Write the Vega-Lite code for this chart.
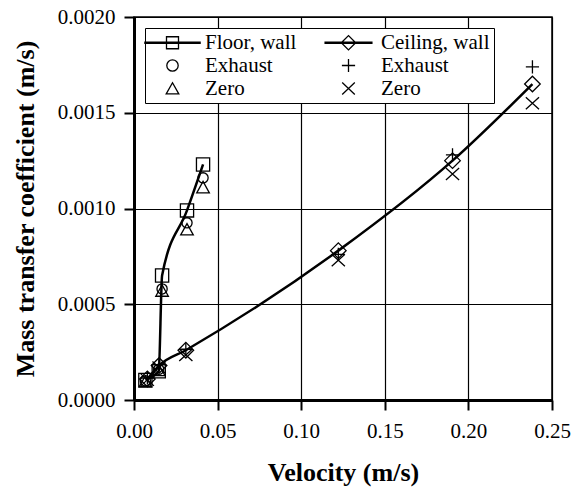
{
  "$schema": "https://vega.github.io/schema/vega-lite/v6.json",
  "width": 418,
  "height": 383,
  "autosize": {"type": "none"},
  "padding": {"left": 134, "top": 17, "right": 27, "bottom": 88},
  "background": "white",
  "config": {
    "view": {"stroke": "black", "strokeWidth": 1.5},
    "font": "Liberation Serif",
    "axis": {
      "grid": true,
      "gridColor": "black",
      "gridWidth": 1.2,
      "gridOpacity": 1,
      "domainColor": "black",
      "domainWidth": 3,
      "tickColor": "black",
      "tickWidth": 2,
      "tickSize": 10,
      "labelFont": "Liberation Serif",
      "labelFontSize": 21,
      "labelColor": "black",
      "labelOverlap": false,
      "labelFlush": false,
      "titleFont": "Liberation Serif",
      "titleFontSize": 26,
      "titleFontWeight": "bold",
      "titleColor": "black"
    }
  },
  "datasets": {
    "pts": [
      {"series": "Floor", "cond": "wall", "key": "Fw", "v": 0.0068, "k": 0.000105},
      {"series": "Floor", "cond": "wall", "key": "Fw", "v": 0.0148, "k": 0.000150},
      {"series": "Floor", "cond": "wall", "key": "Fw", "v": 0.0168, "k": 0.00065},
      {"series": "Floor", "cond": "wall", "key": "Fw", "v": 0.0317, "k": 0.00099},
      {"series": "Floor", "cond": "wall", "key": "Fw", "v": 0.0413, "k": 0.00123},
      {"series": "Floor", "cond": "exhaust", "key": "Fe", "v": 0.0068, "k": 0.000100},
      {"series": "Floor", "cond": "exhaust", "key": "Fe", "v": 0.0148, "k": 0.000160},
      {"series": "Floor", "cond": "exhaust", "key": "Fe", "v": 0.0168, "k": 0.00058},
      {"series": "Floor", "cond": "exhaust", "key": "Fe", "v": 0.0317, "k": 0.000925},
      {"series": "Floor", "cond": "exhaust", "key": "Fe", "v": 0.0413, "k": 0.00116},
      {"series": "Floor", "cond": "zero", "key": "Fz", "v": 0.0068, "k": 0.000095},
      {"series": "Floor", "cond": "zero", "key": "Fz", "v": 0.0148, "k": 0.000155},
      {"series": "Floor", "cond": "zero", "key": "Fz", "v": 0.0168, "k": 0.00057},
      {"series": "Floor", "cond": "zero", "key": "Fz", "v": 0.0317, "k": 0.00089},
      {"series": "Floor", "cond": "zero", "key": "Fz", "v": 0.0413, "k": 0.00111},
      {"series": "Ceiling", "cond": "wall", "key": "Cw", "v": 0.0080, "k": 0.000110},
      {"series": "Ceiling", "cond": "wall", "key": "Cw", "v": 0.0150, "k": 0.000180},
      {"series": "Ceiling", "cond": "wall", "key": "Cw", "v": 0.0310, "k": 0.000260},
      {"series": "Ceiling", "cond": "wall", "key": "Cw", "v": 0.1222, "k": 0.00078},
      {"series": "Ceiling", "cond": "wall", "key": "Cw", "v": 0.1905, "k": 0.00125},
      {"series": "Ceiling", "cond": "wall", "key": "Cw", "v": 0.2383, "k": 0.00165},
      {"series": "Ceiling", "cond": "exhaust", "key": "Ce", "v": 0.0080, "k": 0.000115},
      {"series": "Ceiling", "cond": "exhaust", "key": "Ce", "v": 0.0150, "k": 0.000185},
      {"series": "Ceiling", "cond": "exhaust", "key": "Ce", "v": 0.0310, "k": 0.000265},
      {"series": "Ceiling", "cond": "exhaust", "key": "Ce", "v": 0.1222, "k": 0.00076},
      {"series": "Ceiling", "cond": "exhaust", "key": "Ce", "v": 0.1905, "k": 0.00128},
      {"series": "Ceiling", "cond": "exhaust", "key": "Ce", "v": 0.2383, "k": 0.00174},
      {"series": "Ceiling", "cond": "zero", "key": "Cz", "v": 0.0080, "k": 0.000105},
      {"series": "Ceiling", "cond": "zero", "key": "Cz", "v": 0.0150, "k": 0.000170},
      {"series": "Ceiling", "cond": "zero", "key": "Cz", "v": 0.0310, "k": 0.000235},
      {"series": "Ceiling", "cond": "zero", "key": "Cz", "v": 0.1222, "k": 0.00073},
      {"series": "Ceiling", "cond": "zero", "key": "Cz", "v": 0.1905, "k": 0.00118},
      {"series": "Ceiling", "cond": "zero", "key": "Cz", "v": 0.2383, "k": 0.00155}
    ],
    "leg": [
      {"lk": "Floor, wall"},
      {"lk": "Exhaust"},
      {"lk": "Zero"},
      {"lk": "Ceiling, wall"},
      {"lk": "Exhaust "},
      {"lk": "Zero "}
    ]
  },
  "layer": [
    {
      "data": {"name": "pts"},
      "transform": [{"filter": "datum.cond === 'wall'"}],
      "mark": {"type": "line", "interpolate": "monotone", "color": "black", "strokeWidth": 2.5},
      "encoding": {
        "x": {"field": "v", "type": "quantitative", "scale": {"domain": [0, 0.25], "nice": false},
          "axis": {"values": [0, 0.05, 0.1, 0.15, 0.2, 0.25], "format": ".2f", "title": "Velocity (m/s)", "labelPadding": 10, "titleY": 80, "titleBaseline": "alphabetic"}},
        "y": {"field": "k", "type": "quantitative", "scale": {"domain": [0, 0.002], "nice": false},
          "axis": {"values": [0, 0.0005, 0.001, 0.0015, 0.002], "format": ".4f", "title": "Mass transfer coefficient (m/s)", "labelPadding": 9, "titleX": -101, "titleY": 191.5, "titleAngle": -90, "titleBaseline": "alphabetic", "titleAlign": "center"}},
        "detail": {"field": "series", "type": "nominal"}
      }
    },
    {
      "data": {"name": "pts"},
      "mark": {"type": "point", "filled": false, "color": "black", "strokeWidth": 1.3, "size": 144, "opacity": 1},
      "encoding": {
        "x": {"field": "v", "type": "quantitative"},
        "y": {"field": "k", "type": "quantitative"},
        "shape": {"field": "key", "type": "nominal",
          "scale": {"domain": ["Fw", "Fe", "Fz", "Cw", "Ce", "Cz"],
            "range": [
              "M-1.1,-1.1H1.1V1.1H-1.1Z",
              "M-0.85,0A0.85,0.85 0 1,0 0.85,0A0.85,0.85 0 1,0 -0.85,0Z",
              "M0,-1L-1.05,0.9H1.05Z",
              "M-1.3,0L0,-1.3L1.3,0L0,1.3Z",
              "M-1.1,0H1.1M0,-1.1V1.1",
              "M-1.1,-1L1.1,1M-1.1,1L1.1,-1"
            ]},
          "legend": null}
      }
    },
    {
      "data": {"name": "leg"},
      "mark": {"type": "point", "filled": false, "color": "black", "strokeWidth": 1.3, "size": 144, "opacity": 0},
      "encoding": {
        "shape": {"field": "lk", "type": "nominal",
          "scale": {"domain": ["Floor, wall", "Exhaust", "Zero", "Ceiling, wall", "Exhaust ", "Zero "],
            "range": [
              "M-4.6,-0.08H4.6V0.08H-4.6ZM-1,-1H1V1H-1Z",
              "M-0.95,0A0.95,0.95 0 1,0 0.95,0A0.95,0.95 0 1,0 -0.95,0Z",
              "M0,-0.95L-1.05,0.9H1.05Z",
              "M-3.9,-0.08H3.9V0.08H-3.9ZM-1.2,0L0,-1.2L1.2,0L0,1.2Z",
              "M-1.1,0H1.1M0,-1.1V1.1",
              "M-1.05,-1L1.05,1M-1.05,1L1.05,-1"
            ]},
          "legend": {
            "orient": "none",
            "legendX": 11,
            "legendY": 11,
            "columns": 2,
            "title": null,
            "labelFont": "Liberation Serif",
            "labelFontSize": 21,
            "labelColor": "black",
            "labelLimit": 300,
            "symbolSize": 144,
            "symbolOffset": 13,
            "labelOffset": 22,
            "columnPadding": 25,
            "rowPadding": 1,
            "padding": 4,
            "strokeColor": "black",
            "fillColor": "white",
            "symbolOpacity": 1,
            "symbolStrokeColor": "black",
            "symbolStrokeWidth": 1.3,
            "symbolFillColor": "transparent"
          }}
      }
    }
  ],
  "resolve": {"scale": {"shape": "independent"}}
}
